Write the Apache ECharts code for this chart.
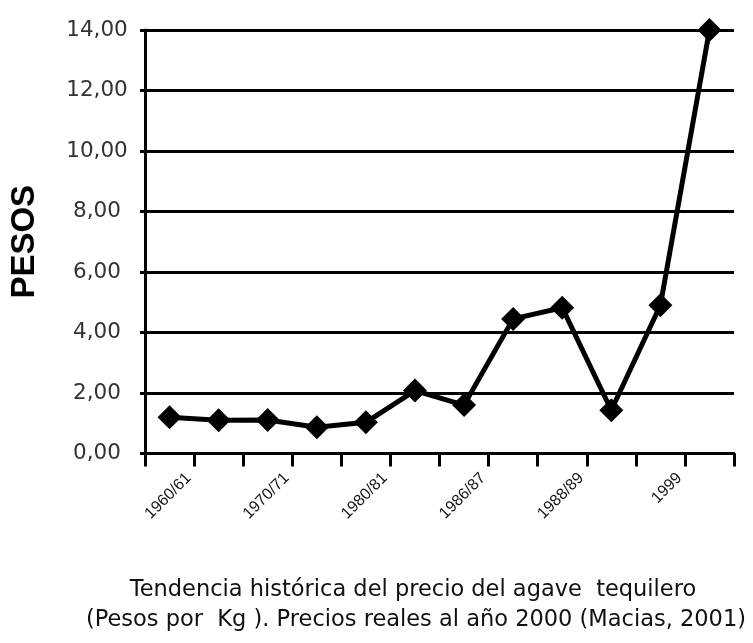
<!DOCTYPE html>
<html>
<head>
<meta charset="utf-8">
<script src="https://cdn.jsdelivr.net/npm/echarts@6/dist/echarts.min.js"></script>
<style>
html,body{margin:0;padding:0;background:#fff;}
#c{width:753px;height:643px;}
</style>
</head>
<body>
<div id="c"></div>
<script>
var categories = ['1960/61','1965/66','1970/71','1975/76','1980/81','1984/85','1986/87','1987/88','1988/89','1990','1999','2000'];
var precios = [1.20, 1.10, 1.11, 0.87, 1.03, 2.08, 1.60, 4.45, 4.82, 1.43, 4.90, 14.00];
var yMin = 0, yMax = 14, yStep = 2;
var yTitle = 'PESOS';
var caption1 = 'Tendencia histórica del precio del agave  tequilero';
var caption2 = '(Pesos por  Kg ). Precios reales al año 2000 (Macias, 2001)';

var capFont = {fontFamily: 'DejaVu Sans', fontSize: 22.5, fill: '#111', textAlign: 'center', textVerticalAlign: 'top'};
var chart = echarts.init(document.getElementById('c'), null, {renderer:'canvas'});
chart.setOption({
  animation: false,
  backgroundColor: '#fff',
  grid: {left: 144, right: 19, top: 30, bottom: 189.5, containLabel: false},
  graphic: [
    {type: 'text', x: 413, y: 579, style: Object.assign({text: caption1}, capFont)},
    {type: 'text', x: 416, y: 609, style: Object.assign({text: caption2}, capFont)}
  ],
  xAxis: {
    type: 'category',
    data: categories,
    boundaryGap: true,
    axisLine: {lineStyle: {color: '#000', width: 3}},
    axisTick: {show: true, interval: 0, length: 13, lineStyle: {color: '#000', width: 3}},
    axisLabel: {interval: 1, rotate: 45, margin: 3, align: 'right', verticalAlign: 'top', lineHeight: 54,
      fontFamily: 'Liberation Sans', fontSize: 16, color: '#111'},
    splitLine: {show: false}
  },
  yAxis: {
    type: 'value',
    min: yMin, max: yMax, interval: yStep,
    name: yTitle,
    nameLocation: 'middle',
    nameGap: 104,
    nameRotate: 90,
    nameTextStyle: {fontFamily: 'Liberation Sans', fontWeight: 'bold', fontSize: 33, color: '#000'},
    axisLine: {show: true, lineStyle: {color: '#000', width: 3}},
    axisTick: {show: true, length: 5, lineStyle: {color: '#000', width: 3}},
    axisLabel: {margin: 48, align: 'center', fontFamily: 'DejaVu Sans', fontSize: 21.5, color: '#333',
      formatter: function(v){ return v.toFixed(2).replace('.', ','); }},
    splitLine: {show: true, lineStyle: {color: '#000', width: 3}}
  },
  series: [{
    type: 'line',
    data: precios,
    symbol: 'diamond',
    symbolSize: 24,
    lineStyle: {color: '#000', width: 5},
    itemStyle: {color: '#000'},
    z: 5
  }]
});
</script>
</body>
</html>
